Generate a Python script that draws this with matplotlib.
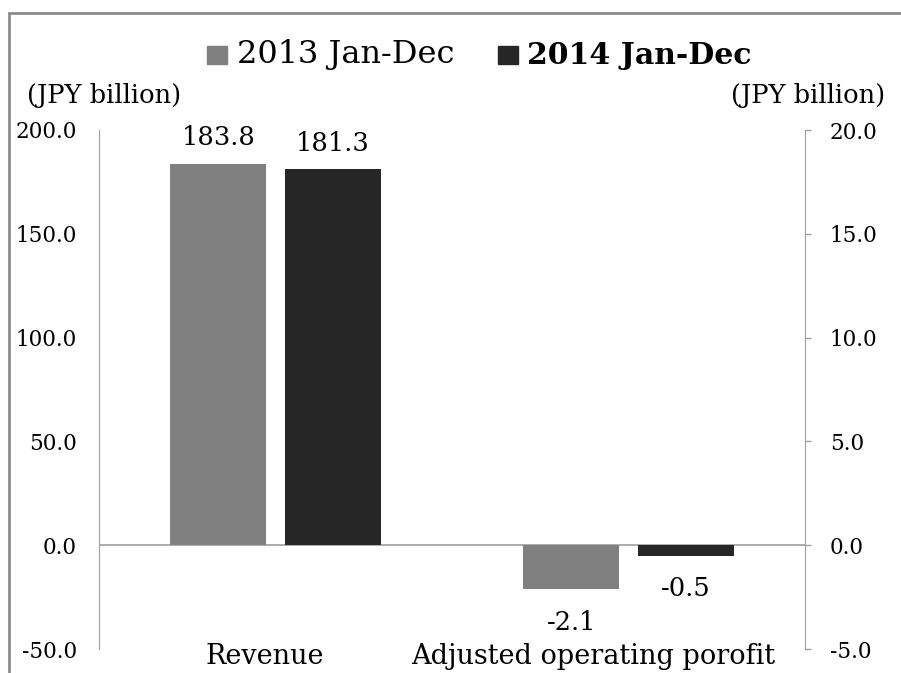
import matplotlib.pyplot as plt
import matplotlib.patches as patches

plt.rcParams['font.family'] = ['DejaVu Serif']
plt.rcParams['axes.unicode_minus'] = False

# 数据
categories = ['Revenue', 'Adjusted operating porofit']
series = ['2013 Jan-Dec', '2014 Jan-Dec']
revenue = [183.8, 181.3]
profit = [-2.1, -0.5]
colors = ['#808080', '#262626']

W, H = 901, 673
fig = plt.figure(figsize=(W / 100, H / 100), dpi=100)

# 外框
fig.patches.append(patches.Rectangle((9 / W, -0.05), 1.0, (H - 13) / H + 0.05,
                                     transform=fig.transFigure, fill=False,
                                     edgecolor='#8c8c8c', lw=2))

ax = fig.add_axes([99 / W, (H - 649) / H, (805 - 99) / W, (649 - 130) / H])
ax2 = ax.twinx()

offs = [-0.1615, 0.1615]
width = 0.272
for i in range(2):
    ax.bar(0 + offs[i], revenue[i], width, color=colors[i])
    ax2.bar(1 + offs[i], profit[i], width, color=colors[i])
    ax.annotate(f'{revenue[i]:.1f}', (0 + offs[i], revenue[i]), xytext=(0, 18.5),
                textcoords='offset points', ha='center', va='center', fontsize=18.5)
    ax2.annotate(f'{profit[i]:.1f}', (1 + offs[i], profit[i]), xytext=(0, -24),
                 textcoords='offset points', ha='center', va='center', fontsize=18.5)

ax.set_xlim(-0.5, 1.5)
ax.set_ylim(-50, 200)
ax2.set_ylim(-5, 20)
ax.set_yticks([-50, 0, 50, 100, 150, 200])
ax2.set_yticks([-5, 0, 5, 10, 15, 20])
ax.set_yticklabels([f'{v:.1f}' for v in [-50, 0, 50, 100, 150, 200]])
ax2.set_yticklabels([f'{v:.1f}' for v in [-5, 0, 5, 10, 15, 20]])
ax.set_xticks([])

ax.axhline(0, color='#a6a6a6', lw=1.3, zorder=0)

for a in (ax, ax2):
    for s in ['top', 'bottom']:
        a.spines[s].set_visible(False)
    a.spines['left'].set_color('#a0a0a0')
    a.spines['right'].set_color('#a0a0a0')
    a.patch.set_visible(False)
ax.spines['right'].set_visible(False)
ax2.spines['left'].set_visible(False)

ax.tick_params(axis='y', length=0, pad=16, labelsize=15.5)
ax2.tick_params(axis='y', length=4.3, width=1, color='#a0a0a0', pad=13.5, labelsize=15.5)

# 分类标签
cat_x = [265, 593]
for cx, c in zip(cat_x, categories):
    fig.text(cx / W, (H - 656) / H, c, ha='center', va='center', fontsize=19.5)

# 单位
fig.text(27 / W, (H - 95) / H, '(JPY billion)', ha='left', va='center', fontsize=18.5)
fig.text(885 / W, (H - 95) / H, '(JPY billion)', ha='right', va='center', fontsize=18.5)

# 图例
leg_sq = [207, 498]
leg_tx = [237, 527]
leg_fs = [23, 21.5]
for i in range(2):
    fig.patches.append(patches.Rectangle((leg_sq[i] / W, (H - 64) / H), 20 / W, 18 / H,
                                         transform=fig.transFigure, color=colors[i]))
    fig.text(leg_tx[i] / W, (H - 55) / H, series[i], ha='left', va='center', fontsize=leg_fs[i],
             fontweight='bold' if i == 1 else 'normal')

fig.savefig('out.png', dpi=100)
